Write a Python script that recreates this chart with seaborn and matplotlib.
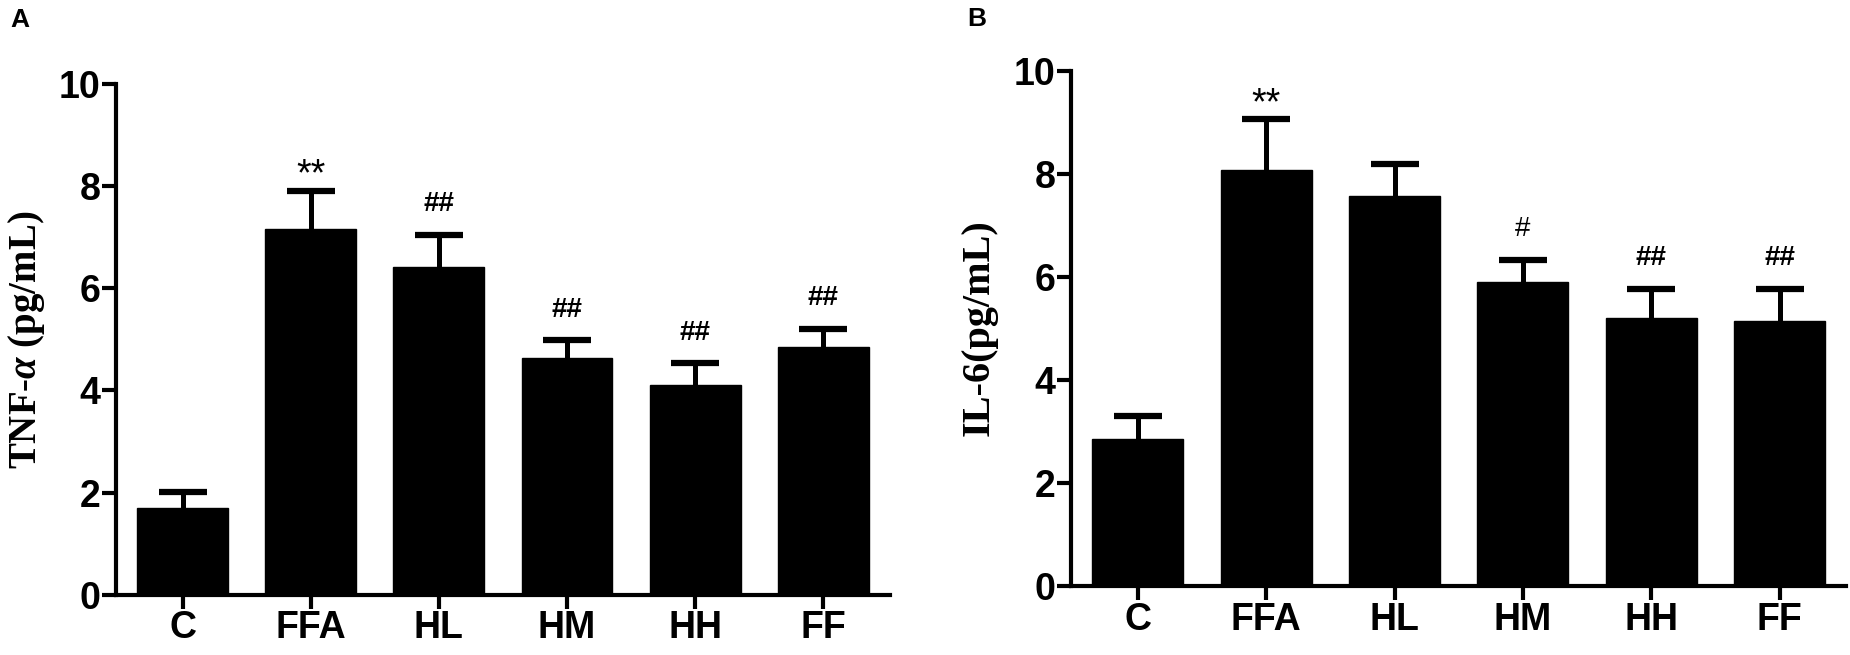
import pandas as pd
import matplotlib
matplotlib.use("Agg")
import matplotlib.pyplot as plt
import seaborn as sns

sns.set_style("ticks", {"axes.edgecolor": "black", "text.color": "black",
                        "xtick.color": "black", "ytick.color": "black",
                        "axes.labelcolor": "black"})
plt.rcParams['font.family'] = ['Liberation Sans', 'DejaVu Sans']
plt.rcParams['mathtext.fontset'] = 'custom'
plt.rcParams['mathtext.it'] = 'Liberation Serif:italic:bold'
plt.rcParams['mathtext.rm'] = 'Liberation Serif:bold'

# data
groups = ["C", "FFA", "HL", "HM", "HH", "FF"]

tnf_mean = [1.70, 7.15, 6.42, 4.63, 4.10, 4.85]
tnf_err = [0.32, 0.75, 0.62, 0.35, 0.43, 0.35]
tnf_marks = ["", "**", "##", "##", "##", "##"]

il6_mean = [2.85, 8.08, 7.58, 5.90, 5.20, 5.14]
il6_err = [0.45, 0.98, 0.62, 0.43, 0.57, 0.63]
il6_marks = ["", "**", "", "#", "##", "##"]

fig = plt.figure(figsize=(18.5, 6.55), dpi=100)
ax_a = fig.add_axes([0.0627, 0.0916, 0.4183, 0.7809])
ax_b = fig.add_axes([0.579, 0.105, 0.419, 0.7866])


def draw_panel(ax, means, errs, marks):
    df = pd.DataFrame({"group": groups, "value": means})
    sns.barplot(data=df, x="group", y="value", color="black",
                width=0.71, errorbar=None, ax=ax, edgecolor="black")
    eb = ax.errorbar(range(len(groups)), means, yerr=[[0] * len(errs), errs],
                     fmt="none", ecolor="black", elinewidth=3.6,
                     capsize=17, capthick=4.5)
    # hide the cap at the bar top (only upper SD is shown)
    eb[1][0].set_visible(False)
    for i, (m, e, t) in enumerate(zip(means, errs, marks)):
        if not t:
            continue
        if t == "**":
            ax.text(i, m + e + 0.3, t, ha="center", va="center",
                    fontsize=27)
        elif t == "##":
            ax.text(i, m + e + 0.6, t, ha="center", va="center",
                    fontsize=20, fontweight="bold")
        else:
            ax.text(i, m + e + 0.6, t, ha="center", va="center",
                    fontsize=20)
    ax.set_xlim(-0.52, 5.52)
    ax.set_ylim(0, 10)
    ax.set_yticks([0, 2, 4, 6, 8, 10])
    ax.set_xlabel("")
    ax.set_ylabel("")
    sns.despine(ax=ax)
    for s in ["left", "bottom"]:
        ax.spines[s].set_linewidth(3)
    ax.tick_params(axis="both", width=3, length=10, pad=1, labelsize=27,
                   color="black", labelcolor="black")
    for lab in ax.get_xticklabels() + ax.get_yticklabels():
        lab.set_fontweight("bold")


draw_panel(ax_a, tnf_mean, tnf_err, tnf_marks)
draw_panel(ax_b, il6_mean, il6_err, il6_marks)

fig.text(27 / 1850, 1 - 340 / 655, r"TNF-$\alpha$ (pg/mL)", rotation=90,
         ha="center", va="center", fontsize=28, fontweight="bold",
         family="Liberation Serif")
fig.text(979 / 1850, 1 - 328 / 655, "IL-6(pg/mL)", rotation=90,
         ha="center", va="center", fontsize=29, fontweight="bold",
         family="Liberation Serif")

fig.text(10 / 1850, 1 - 20 / 655, "A", ha="left", va="center",
         fontsize=19, fontweight="bold")
fig.text(967 / 1850, 1 - 19 / 655, "B", ha="left", va="center",
         fontsize=19, fontweight="bold")

fig.savefig("out.png", dpi=100, facecolor="white")
